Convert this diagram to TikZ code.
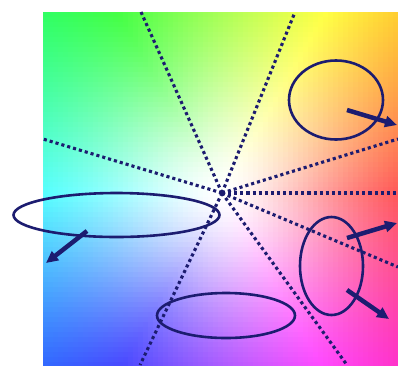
\documentclass[tikz,border=0pt]{standalone}
\usetikzlibrary{arrows.meta,shapes.geometric}
\definecolor{navy}{RGB}{28,28,112}
\tikzset{
  ray/.style={navy, line width=3.1pt, dash pattern=on 3.1pt off 3pt},
  ring/.style={ellipse, draw=navy, line width=2.6pt, inner sep=0pt, fill=none},
  arr/.style={navy, line width=4.5pt, -{Triangle[length=12pt,width=11pt]}},
}
\begin{document}
\begin{tikzpicture}[x=1pt,y=-1pt]
\useasboundingbox (0,0) rectangle (398,365);
\fill[white] (0,0) rectangle (398,365);
% colour field
\begin{scope}
\clip (43,12) rectangle (398,365);
\foreach \i in {0,...,70}{
  \foreach \j in {0,...,70}{
    \pgfmathsetmacro\cx{5*\i-176.5}
    \pgfmathsetmacro\cy{178.5-5*\j}
    \pgfmathsetmacro\ang{atan2(\cy,\cx)}
    \pgfmathsetmacro\hh{mod(\ang+360,360)/360}
    \pgfmathsetmacro\ss{0.9*(1-exp(-pow(veclen(\cx,\cy)/150,1.6)))}
    \definecolor{cc}{hsb}{\hh,\ss,1}
    \fill[cc] (43+5*\i,12+5*\j) rectangle ++(5.6,5.6);
  }
}
\end{scope}
% rays
\coordinate (O) at (222,193);
\coordinate (r1) at (141,12);
\coordinate (r2) at (295,12);
\coordinate (r3) at (43,139);
\coordinate (r4) at (398,139);
\coordinate (r5) at (398,193);
\coordinate (r6) at (398,267);
\coordinate (r7) at (347,365);
\coordinate (r8) at (140,365);
\foreach \k in {1,...,8}{\draw[ray] (O) -- (r\k);}
% ellipses
\node[ring, minimum width=94pt, minimum height=79pt] (e1) at (336,100) {};
\node[ring, minimum width=206pt, minimum height=44pt] (e2) at (116.5,215) {};
\node[ring, minimum width=63pt, minimum height=98pt] (e3) at (331.5,266) {};
\node[ring, minimum width=138pt, minimum height=45pt] (e4) at (226,315.5) {};
% arrows
\coordinate (a1s) at (347,110); \coordinate (a1e) at (397,125);
\coordinate (a2s) at (87,231);  \coordinate (a2e) at (46,263);
\coordinate (a3s) at (347,238); \coordinate (a3e) at (397,223);
\coordinate (a4s) at (347,290); \coordinate (a4e) at (389,319);
\draw[arr] (a1s) -- (a1e);
\draw[arr] (a2s) -- (a2e);
\draw[arr] (a3s) -- (a3e);
\draw[arr] (a4s) -- (a4e);
\end{tikzpicture}
\end{document}
